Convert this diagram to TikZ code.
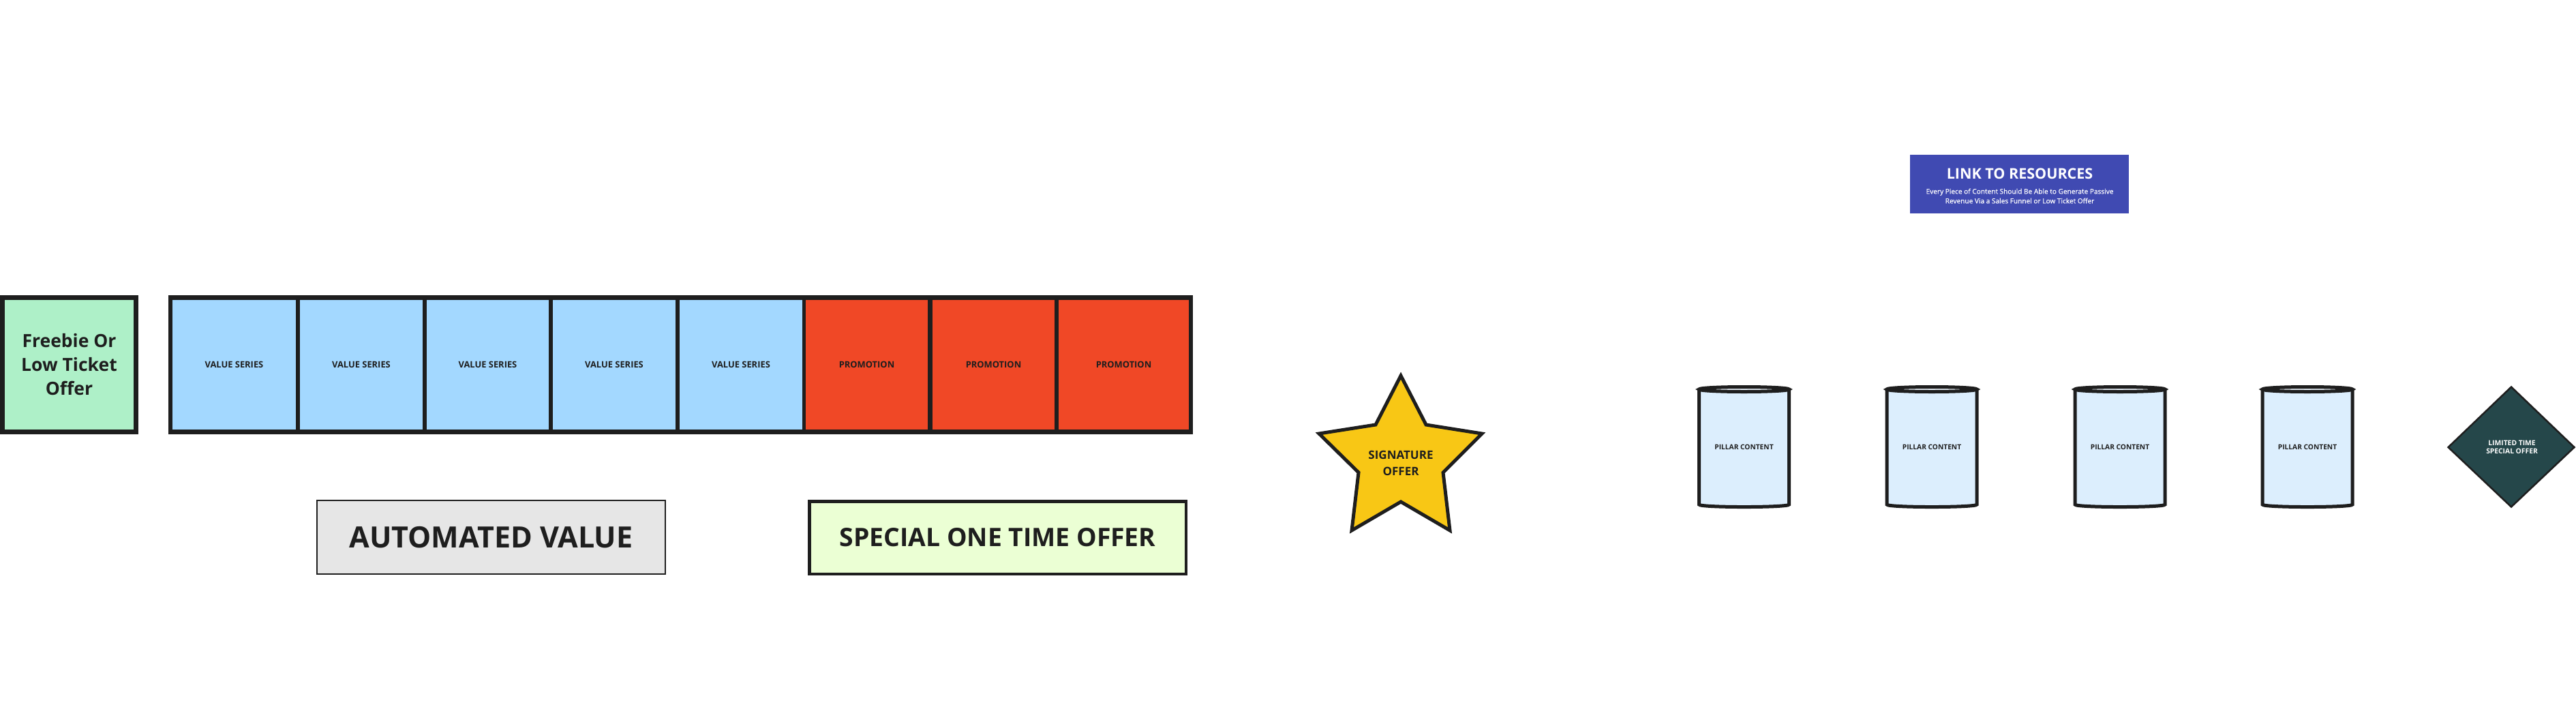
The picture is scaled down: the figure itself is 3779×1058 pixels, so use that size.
\documentclass[tikz,border=0pt]{standalone}
\usepackage{fontspec}
\setmainfont{Open Sans}
\newfontfamily\osemi[FakeBold=0.5]{Open Sans}
\definecolor{ink}{HTML}{1E1E1E}
\definecolor{vblue}{HTML}{A3D8FF}
\definecolor{pred}{HTML}{F04826}
\definecolor{fgreen}{HTML}{AEF0C8}
\definecolor{agray}{HTML}{E6E6E6}
\definecolor{sgreen}{HTML}{EBFFD4}
\definecolor{syellow}{HTML}{F8C715}
\definecolor{lblue}{HTML}{404AB2}
\definecolor{pblue}{HTML}{DCEEFD}
\definecolor{pcap}{HTML}{EEF6FE}
\definecolor{dteal}{HTML}{25474A}
\begin{document}
\begin{tikzpicture}[x=1pt,y=-1pt,
  cell/.style={inner sep=0pt, minimum height=190pt, text=ink,
    font=\bfseries\fontsize{12.9}{15}\selectfont},
  bigbox/.style={draw=ink, inner sep=0pt, text=ink},
  pil/.style={draw=ink, line width=5pt},
  pillabel/.style={inner sep=0pt, text=ink, font=\bfseries\fontsize{10.2}{12}\selectfont}]
\useasboundingbox (0,0) rectangle (3779,1058);
\fill[white] (0,0) rectangle (3779,1058);

% Freebie box
\node[bigbox, line width=7pt, fill=fgreen, minimum width=196pt, minimum height=197pt,
  align=center, font=\bfseries\fontsize{26.5}{35}\selectfont] (free) at (101.5,535)
  {Freebie Or\\Low Ticket\\Offer};

% strip
\node[fill=ink, inner sep=0pt, minimum width=1503pt, minimum height=204pt] (strip) at (998.5,535) {};
\node[cell, fill=vblue, minimum width=181pt] (v1) at (343.5,535) {VALUE SERIES};
\node[cell, fill=vblue, minimum width=180pt] (v2) at (530,535) {VALUE SERIES};
\node[cell, fill=vblue, minimum width=179pt] (v3) at (715.5,535) {VALUE SERIES};
\node[cell, fill=vblue, minimum width=180pt] (v4) at (901,535) {VALUE SERIES};
\node[cell, fill=vblue, minimum width=180pt] (v5) at (1087,535) {VALUE SERIES};
\node[cell, fill=pred, minimum width=179pt] (r1) at (1271.5,535) {PROMOTION};
\node[cell, fill=pred, minimum width=179pt] (r2) at (1457.5,535) {PROMOTION};
\node[cell, fill=pred, minimum width=191pt] (r3) at (1648.5,535) {PROMOTION};

% bottom labels
\node[bigbox, line width=2pt, fill=agray, minimum width=511pt, minimum height=108pt,
  font=\bfseries\fontsize{43}{50}\selectfont] (auto) at (720.5,788) {AUTOMATED VALUE};
\node[bigbox, line width=4.5pt, fill=sgreen, minimum width=552.5pt, minimum height=106.5pt,
  font=\bfseries\fontsize{37.3}{46}\selectfont] (soto) at (1463.5,788.5) {SPECIAL ONE TIME OFFER};

% star
\draw[fill=syellow, draw=ink, line width=5pt]
  (2055,551) -- (2092,623) -- (2174,636) -- (2117,693) -- (2127,778)
  -- (2055,736) -- (1983,778) -- (1993,693) -- (1935,636) -- (2018,623) -- cycle;
\node[inner sep=0pt, text=ink, align=center, font=\bfseries\fontsize{17}{24}\selectfont]
  (sig) at (2055,679) {SIGNATURE\\OFFER};

% link to resources
\node[fill=lblue, inner sep=0pt, minimum width=321pt, minimum height=86pt] (link) at (2962.5,270) {};
\node[inner sep=0pt, text=white, font=\bfseries\fontsize{21.5}{26}\selectfont] (linkT) at (2963,254.5) {LINK TO RESOURCES};
\node[inner sep=0pt, text=white, align=center, font=\osemi\fontsize{10.1}{14}\selectfont] (linkS) at (2963,287.5)
  {Every Piece of Content Should Be Able to Generate Passive\\Revenue Via a Sales Funnel or Low Ticket Offer};

% pillars
\foreach \i/\cx in {1/2558.5, 2/2834, 3/3110, 4/3385}{
  \fill[pblue] (\cx-66,571) -- (\cx-66,740) .. controls (\cx-66,744.7) and (\cx+66,744.7) .. (\cx+66,740) -- (\cx+66,571) -- cycle;
  \draw[pil] (\cx-66,571) -- (\cx-66,740) .. controls (\cx-66,744.7) and (\cx+66,744.7) .. (\cx+66,740) -- (\cx+66,571);
  \draw[pil, fill=pcap] (\cx,571) ellipse [x radius=66, y radius=3.5];
  \node[pillabel] (p\i) at (\cx,656) {PILLAR CONTENT};
}

% diamond
\draw[fill=dteal, draw=ink, line width=2.5pt]
  (3684,567.5) -- (3776.5,656) -- (3684,743.5) -- (3591.5,656) -- cycle;
\node[inner sep=0pt, text=white, align=center, font=\bfseries\fontsize{10.3}{12.5}\selectfont]
  (lto) at (3685,656) {LIMITED TIME\\SPECIAL OFFER};
\end{tikzpicture}
\end{document}
